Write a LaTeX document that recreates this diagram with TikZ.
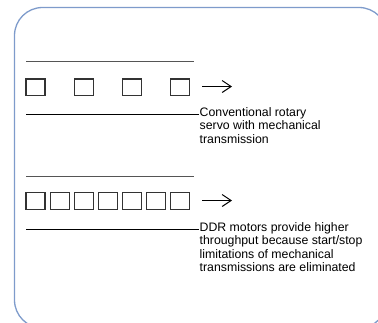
\documentclass[tikz,border=0pt]{standalone}
\usepackage{fontspec}
\setmainfont{Liberation Sans}
\usetikzlibrary{arrows.meta}
\definecolor{frameblue}{HTML}{7E9BCB}
\definecolor{boxgrey}{HTML}{333333}
\definecolor{topgrey}{HTML}{555555}
\tikzset{
  cell/.style={draw=boxgrey, line width=1.2pt, minimum width=19pt, minimum height=16.5pt, inner sep=0pt},
  rail/.style={draw=topgrey, line width=1pt},
  baserail/.style={draw=black, line width=1pt},
  motion/.style={draw=black, line width=1pt, -{Straight Barb[length=9pt,width=12pt,line width=1pt]}},
  caption/.style={anchor=base west, inner sep=0pt, font=\fontsize{12.3}{13.3}\selectfont},
}
\newcommand{\captlines}[1]{\vtop{\baselineskip=13.3pt\lineskiplimit=-20pt #1}}
\begin{document}
\begin{tikzpicture}[x=1pt,y=-1pt]
\useasboundingbox (0,0) rectangle (378,322);
\begin{scope}
\clip (0,0) rectangle (378,322);
\draw[frameblue, line width=1.3pt, rounded corners=28pt] (14.5,7.5) rectangle (387,328);
\end{scope}
% section 1
\coordinate (t1l) at (26,61);
\coordinate (t1r) at (194,61);
\draw[rail] (t1l) -- (t1r);
\foreach \k in {0,1,2,3} {
  \node[cell] (a\k) at ({35.5+48.2*\k},87.3) {};
}
\coordinate (r1s) at (202,86.5);
\coordinate (r1e) at (232,86.5);
\draw[motion] (r1s) -- (r1e);
\coordinate (b1l) at (26,114);
\node[caption] (c1) at (199.5,116.5) {\captlines{\hbox{Conventional rotary}\hbox{servo with mechanical}\hbox{transmission}}};
\coordinate (b1r) at (199,114);
\draw[baserail] (b1l) -- (b1r);
% section 2
\coordinate (t2l) at (26,176);
\coordinate (t2r) at (194,176);
\draw[rail] (t2l) -- (t2r);
\foreach \k in {0,...,6} {
  \node[cell] (d\k) at ({35.5+24.1*\k},201) {};
}
\coordinate (r2s) at (202,200.5);
\coordinate (r2e) at (232,200.5);
\draw[motion] (r2s) -- (r2e);
\coordinate (b2l) at (26,229);
\node[caption] (c2) at (199.5,231.5) {\captlines{\hbox{DDR motors provide higher}\hbox{throughput because start/stop}\hbox{limitations of mechanical}\hbox{transmissions are eliminated}}};
\coordinate (b2r) at (199,229);
\draw[baserail] (b2l) -- (b2r);
\end{tikzpicture}
\end{document}
